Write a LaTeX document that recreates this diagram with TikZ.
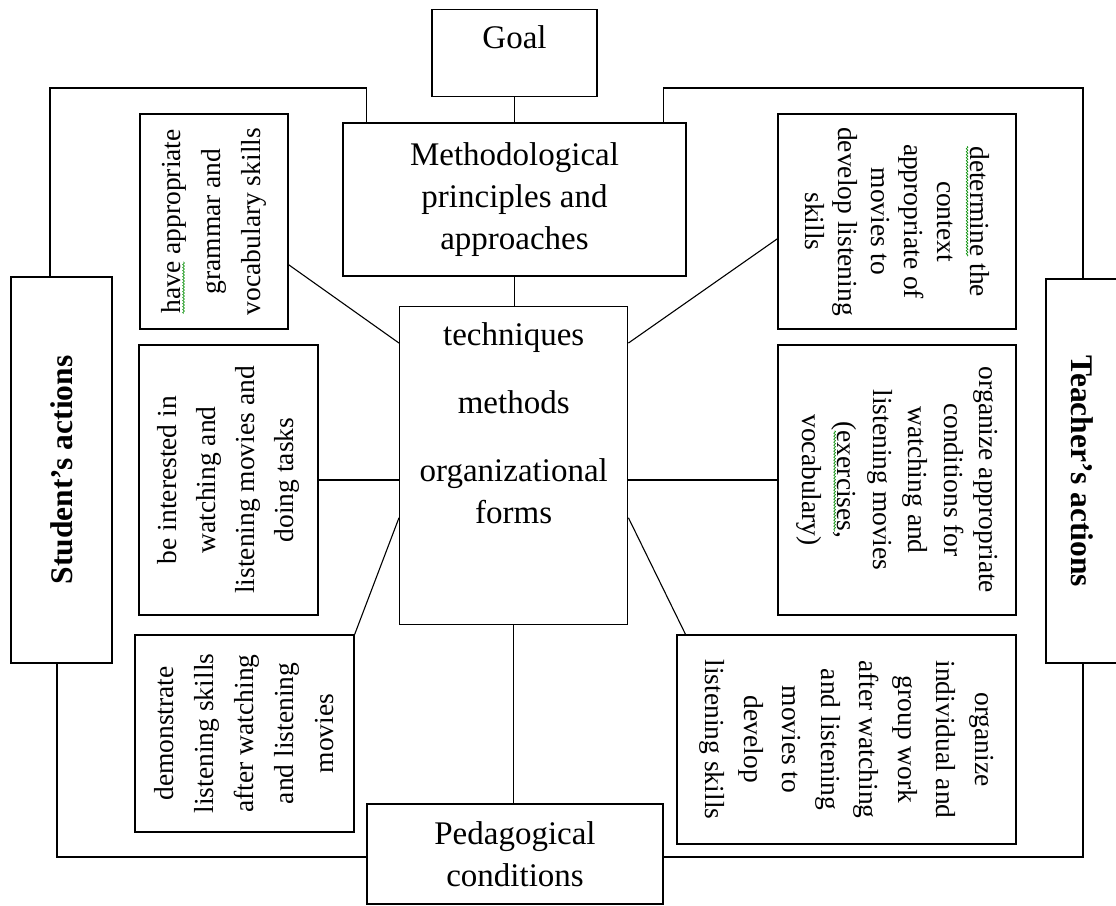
\documentclass[tikz,border=0pt]{standalone}
\usepackage{fontspec}
\setmainfont{Liberation Serif}
\usepackage{graphicx}
\usetikzlibrary{calc, decorations.pathmorphing}

\newcommand{\bigfont}{\fontsize{33}{42}\selectfont}
% rotated text for the side boxes: angle, line length, line spacing, text
\newcommand{\sidetext}[4]{\rotatebox{#1}{\parbox{#2pt}{\centering\fontsize{27.5}{#3}\selectfont #4}}}
\newcommand{\spellmark}[1]{\tikz[baseline=(w.base)]{\node[draw=none, inner sep=0pt, outer sep=0pt, minimum width=0pt, minimum height=0pt, anchor=center] (w) {#1};
  \draw[green!55!black, line width=0.6pt, decorate, decoration={snake, amplitude=0.9pt, segment length=3pt}]
    ([yshift=-3pt]w.base west) -- ([yshift=-3pt]w.base east);}}

\begin{document}
\begin{tikzpicture}[x=1pt, y=-1pt,
    box/.style={draw, rectangle, line width=1.4pt, inner sep=0pt},
    link/.style={line width=1.1pt},
    bigtext/.style={font=\bigfont, align=center},
    sidetitle/.style={font=\bfseries\fontsize{31.5}{38}\selectfont}]
    \useasboundingbox (0,0) rectangle (1116,905);
    \fill[white] (0,0) rectangle (1116,905);

    % Nodes
    \node[box, bigtext, anchor=north, minimum width=165pt, text height=39pt, text depth=48pt] (goal) at (514.5,9) {Goal};
    \node[box, bigtext, minimum width=343pt, minimum height=153pt] (meth) at (514.5,199.5) {Methodological\\principles and\\approaches};
    \node[box, font=\bigfont, anchor=north west] (ctr) at (399,306)
        {\parbox[c][318pt][t]{228pt}{\centering\vspace*{16pt}techniques\par\vspace{26pt}methods\par\vspace{26pt}organizational\\forms}};
    \node[box, bigtext, minimum width=296pt, minimum height=100pt] (ped) at (515,854) {Pedagogical\\conditions};

    \node[box, sidetitle, minimum width=101pt, minimum height=386pt] (stud) at (61.5,470) {\rotatebox{90}{Student’s actions}};
    \node[box, sidetitle, minimum width=72pt, minimum height=384pt] (teach) at (1082,471) {\rotatebox{-90}{Teacher’s actions}};

    \node[box, minimum width=148pt, minimum height=215pt] (have) at (214,221.5)
        {\sidetext{90}{205}{40pt}{\spellmark{have} appropriate\\grammar and\\vocabulary skills}};
    \node[box, minimum width=179pt, minimum height=270pt] (interest) at (228.5,480)
        {\sidetext{90}{260}{39pt}{be interested in\\watching and\\listening movies and\\doing tasks}};
    \node[box, minimum width=219pt, minimum height=197pt] (demo) at (244.5,733.5)
        {\sidetext{90}{190}{40pt}{demonstrate\\listening skills\\after watching\\and listening\\movies}};
    \node[box, minimum width=238pt, minimum height=215pt] (det) at (897,221.5)
        {\sidetext{-90}{205}{33pt}{\spellmark{determine} the\\context\\appropriate of\\movies to\\develop listening\\skills}};
    \node[box, minimum width=238pt, minimum height=270pt] (cond) at (897,480)
        {\sidetext{-90}{260}{35.5pt}{organize appropriate\\conditions for\\watching and\\listening movies\\(\spellmark{exercises},\\vocabulary)}};
    \node[box, minimum width=339pt, minimum height=209pt] (indiv) at (846.5,739.5)
        {\sidetext{-90}{200}{38.5pt}{organize\\individual and\\group work\\after watching\\and listening\\movies to\\develop\\listening skills}};

    % Connections
    \draw[link] (goal) -- (meth);
    \draw[link] (meth.south) -- (meth.south |- ctr.north);
    \draw[link] (ctr.south) -- (ctr.south |- ped.north);
    \draw[link] ($(have.north east)!0.70!(have.south east)$) -- ($(ctr.north west)!0.116!(ctr.south west)$);
    \draw[link] (interest.east) -- (interest.east -| ctr.west);
    \draw[link] (demo.north east) -- ($(ctr.north west)!0.663!(ctr.south west)$);
    \draw[link] ($(ctr.north east)!0.116!(ctr.south east)$) -- ($(det.north west)!0.58!(det.south west)$);
    \draw[link] (cond.west -| ctr.east) -- (cond.west);
    \draw[link] ($(ctr.north east)!0.663!(ctr.south east)$) -- ($(indiv.north west)!0.027!(indiv.north east)$);

    % Loops round the side
    \coordinate (sbend) at (50,88);
    \coordinate (sfoot) at (57,857);
    \coordinate (tbend) at (1083,88);
    \draw[link] (stud.north -| sbend) |- (sbend -| ped.west) -- (meth.north -| ped.west);
    \draw[link] (stud.south -| sfoot) |- (ped.west |- sfoot);
    \draw[link] (meth.north -| ped.east) -- (ped.east |- tbend) -| (teach.north -| tbend);
    \draw[link] (teach.south -| tbend) |- (ped.east |- sfoot);
\end{tikzpicture}
\end{document}
